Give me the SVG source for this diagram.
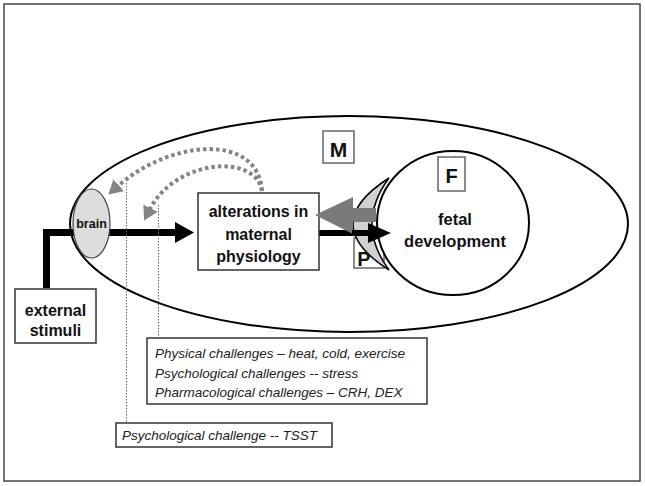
<svg xmlns="http://www.w3.org/2000/svg" width="645" height="486" viewBox="0 0 645 486">
<style>
  .bold { font-family: "Liberation Sans", Arial, sans-serif; font-weight: bold; fill: #111; }
  .ital { font-family: "Liberation Sans", Arial, sans-serif; font-style: italic; font-size: 13.5px; fill: #222; }
  .box { fill: #fff; stroke: #333; stroke-width: 1.5; }
  .lbox { fill: #fff; stroke: #666; stroke-width: 1.5; }
  .dots { fill: none; stroke: #858585; stroke-width: 4; stroke-dasharray: 3.5 3; }
  .vdots { fill: none; stroke: #666; stroke-width: 1; stroke-dasharray: 1.5 1.5; }
  .thick { fill: none; stroke: #000; stroke-width: 7; }
</style>
<defs>
  <marker id="grayHead" viewBox="0 0 14 16" refX="1" refY="8" markerWidth="14" markerHeight="16" markerUnits="userSpaceOnUse" orient="auto">
    <path d="M0,0 L14,8 L0,16 Z" fill="#858585"/>
  </marker>
</defs>
<rect x="4" y="4" width="636" height="477" fill="#fff" stroke="#444" stroke-width="1.5"/>

<g id="mother">
  <ellipse cx="349" cy="224" rx="279" ry="108" fill="#fff" stroke="#000" stroke-width="2"/>
  <rect class="lbox" x="323" y="131" width="31" height="32"/>
  <text class="bold" x="338.5" y="157" font-size="21" text-anchor="middle">M</text>
</g>

<g id="connectors">
  <polyline class="thick" points="46.5,288 46.5,232.5 177,232.5"/>
  <polygon points="175,222 194,232.5 175,243" fill="#000"/>
  <line x1="319" y1="233" x2="370" y2="233" stroke="#000" stroke-width="6"/>
  <path class="dots" d="M262,191 C258,132 170,140 118,186" marker-end="url(#grayHead)"/>
  <path class="dots" d="M262,191 C255,152 175,160 150,209" marker-end="url(#grayHead)"/>
  <line class="vdots" x1="126.5" y1="183" x2="126.5" y2="423"/>
  <line class="vdots" x1="158.5" y1="205" x2="158.5" y2="338"/>
</g>

<g id="brain">
  <ellipse cx="91.5" cy="223.5" rx="18.5" ry="34.5" fill="#ddd" stroke="#444" stroke-width="1.2"/>
  <text class="bold" x="91.5" y="228" font-size="12.5" text-anchor="middle">brain</text>
</g>

<g id="external-stimuli">
  <rect class="box" x="15" y="289" width="81" height="54"/>
  <text class="bold" x="55.5" y="316" font-size="16" text-anchor="middle">external</text>
  <text class="bold" x="55.5" y="336" font-size="16" text-anchor="middle">stimuli</text>
</g>

<g id="alterations">
  <rect class="box" x="198" y="193" width="121" height="77"/>
  <text class="bold" x="258.5" y="217" font-size="16" text-anchor="middle">alterations in</text>
  <text class="bold" x="258.5" y="240" font-size="16" text-anchor="middle">maternal</text>
  <text class="bold" x="258.5" y="262" font-size="16" text-anchor="middle">physiology</text>
</g>

<g id="placenta">
  <rect class="lbox" x="354" y="238" width="30" height="30"/>
  <path d="M389,178 Q317,224 389,270 Q355,224 389,178 Z" fill="#d0d0d0" stroke="#000" stroke-width="1.5"/>
</g>

<g id="fetus">
  <ellipse cx="453" cy="223" rx="76" ry="72" fill="#fff" stroke="#000" stroke-width="2"/>
  <rect class="lbox" x="438" y="157" width="27" height="34"/>
  <text class="bold" x="451.5" y="183" font-size="20" text-anchor="middle">F</text>
  <text class="bold" x="455" y="225" font-size="16.5" text-anchor="middle">fetal</text>
  <text class="bold" x="455" y="247" font-size="16.5" text-anchor="middle">development</text>
</g>

<g id="placenta-arrows">
  <line x1="376" y1="215" x2="350" y2="215" stroke="#7a7a7a" stroke-width="14"/>
  <polygon points="315,215 353,197 353,234" fill="#7a7a7a"/>
  <line x1="352" y1="233" x2="372" y2="233" stroke="#000" stroke-width="6"/>
  <polygon points="368,223 391,233 368,243" fill="#000"/>
  <text class="bold" x="364" y="266" font-size="20" text-anchor="middle">P</text>
</g>

<g id="challenges">
  <rect class="box" x="147" y="338" width="280" height="66"/>
  <text class="ital" x="155" y="358">Physical challenges – heat, cold, exercise</text>
  <text class="ital" x="155" y="378">Psychological challenges -- stress</text>
  <text class="ital" x="155" y="397">Pharmacological challenges – CRH, DEX</text>
</g>

<g id="tsst">
  <rect class="box" x="116" y="423" width="216" height="24"/>
  <text class="ital" x="122" y="440">Psychological challenge -- TSST</text>
</g>
</svg>
